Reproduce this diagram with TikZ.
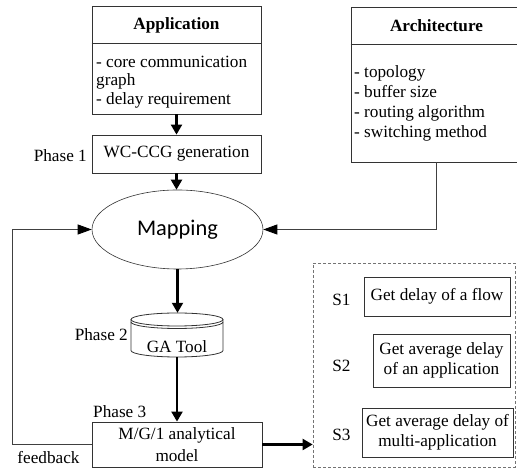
\documentclass[tikz,border=0pt]{standalone}
\usepackage{fontspec}
\setmainfont{Liberation Serif}
\newfontfamily\mapfont{Carlito}
\usetikzlibrary{arrows.meta,shapes.geometric}

\begin{document}
\begin{tikzpicture}[x=1pt,y=1pt,
  txt/.style={font=\fontsize{17.2}{20}\selectfont, inner sep=0pt},
  box/.style={draw=black!80, line width=0.8pt, inner sep=0pt, font=\fontsize{17.2}{20}\selectfont},
  rule/.style={draw=black!80, line width=0.8pt},
  flow/.style={line width=2.1pt, -{Triangle[length=10pt,width=11pt]}},
  link/.style={draw=black!75, line width=0.9pt, -{Triangle[length=14pt,width=10pt,fill=black,color=black]}},
]
\useasboundingbox (0,0) rectangle (517,468);

% Application box
\node[box, minimum width=169pt, minimum height=108pt] (app) at (176.5,408) {};
\draw[rule] (app.west |- 0,425) -- (app.east |- 0,425);
\node[txt, font=\fontsize{17.2}{20}\selectfont\bfseries] (apphead) at (176.5,443) {Application};
\node[txt, font=\fontsize{17.2}{18.5}\selectfont, anchor=west, align=left] (appbody) at (96,386)
  {- core communication\\graph\\- delay requirement};

% Architecture box
\node[box, minimum width=171pt, minimum height=155pt] (arch) at (436.5,383.5) {};
\draw[rule] (arch.west |- 0,424) -- (arch.east |- 0,424);
\node[txt, font=\fontsize{17.2}{20}\selectfont\bfseries] (archhead) at (436.5,442) {Architecture};
\node[txt, font=\fontsize{17.2}{20}\selectfont, anchor=west, align=left] (archbody) at (354,365)
  {- topology\\- buffer size\\- routing algorithm\\- switching method};

% Phase 1
\node[box, minimum width=169pt, minimum height=38pt] (wc) at (176.5,314) {WC-CCG generation};
\node[txt, anchor=east] (p1) at (87,312) {Phase 1};

% Mapping
\node[draw=black!80, line width=0.6pt, ellipse, inner sep=0pt, minimum width=171pt, minimum height=79pt,
  font=\mapfont\fontsize{22.4}{26}\selectfont] (map) at (177.5,238.5) {Mapping};

% Phase 2: GA tool drum
\node[inner sep=0pt, minimum width=92pt, minimum height=44pt] (ga) at (177,133) {};
\draw[rule] (131,148.5) -- (131,117.5) arc[start angle=180, end angle=360, x radius=46, y radius=6.5] -- (223,148.5);
\draw[rule] (177,148.5) ellipse [x radius=46, y radius=6.5];
\draw[rule] (131,146) arc[start angle=180, end angle=360, x radius=46, y radius=6.5];
\node[txt] (gatext) at (177,121) {GA Tool};
\node[txt, anchor=east] (p2) at (128,133) {Phase 2};

% Phase 3
\node[box, minimum width=170pt, minimum height=45pt, align=center, font=\fontsize{17.2}{22}\selectfont] (mg) at (177,23.5)
  {M/G/1 analytical\\model};
\node[txt, anchor=west] (p3) at (93,56) {Phase 3};
\node[txt] (fbtext) at (48.5,10) {feedback};
\coordinate (fb) at (12,0);

% Delay services
\node[draw=black!55, dash pattern=on 3pt off 2pt, line width=0.7pt, minimum width=202pt, minimum height=204pt] (sbox) at (414,103) {};
\node[box, minimum width=146pt, minimum height=39pt] (s1) at (437,171.5) {Get delay of a flow};
\node[box, minimum width=137pt, minimum height=53pt, align=center] (s2) at (441.5,107.5) {Get average delay\\of an application};
\node[box, minimum width=151pt, minimum height=49pt, align=center] (s3) at (437.5,35.5) {Get average delay of\\multi-application};
\node[txt] (l1) at (341.5,168) {S1};
\node[txt] (l2) at (341.5,102) {S2};
\node[txt] (l3) at (341.5,33) {S3};

% Connectors
\draw[flow] (app.south) -- (wc.north);
\draw[flow] (wc.south) -- (wc.south |- map.north);
\draw[flow] (map.south) -- (map.south |- ga.north);
\draw[flow] (ga.south) -- (ga.south |- mg.north);
\draw[link] (arch.south) |- (map.east);
\draw[link] (mg.west) -- (mg.west -| fb) |- (map.west);
\draw[flow] (mg.east) -- (mg.east -| sbox.west);
\end{tikzpicture}
\end{document}
